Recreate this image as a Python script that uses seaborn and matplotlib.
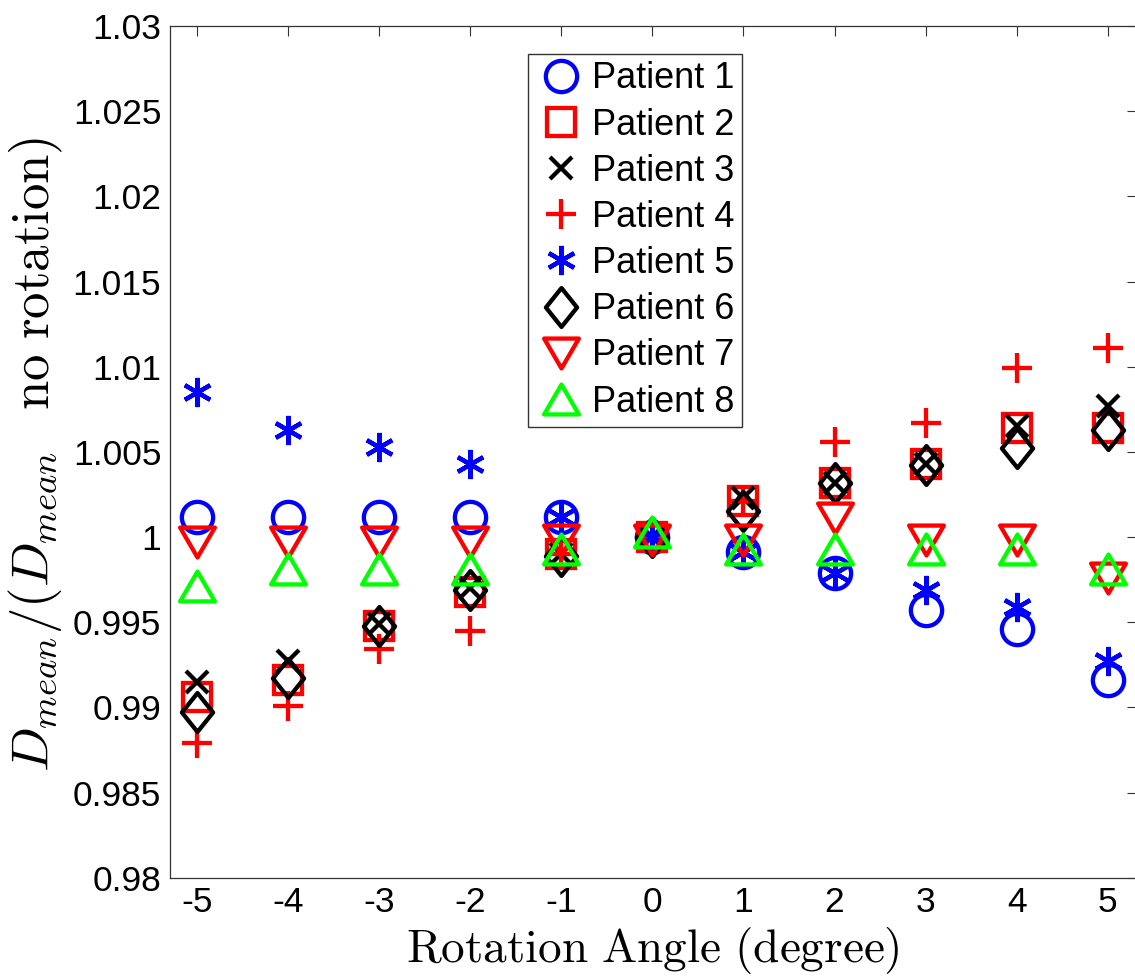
import numpy as np
import pandas as pd
import matplotlib
matplotlib.use('Agg')
import matplotlib.pyplot as plt
from matplotlib.path import Path
import seaborn as sns

# rotation angles (degree)
angles = [-5, -4, -3, -2, -1, 0, 1, 2, 3, 4, 5]

# D_mean / D_mean(no rotation)
patient_1 = [1.0012, 1.0012, 1.0012, 1.0012, 1.0012, 1.0000, 0.9991, 0.9979, 0.9957, 0.9946, 0.9916]
patient_2 = [0.9906, 0.9916, 0.9948, 0.9968, 0.9990, 1.0000, 1.0021, 1.0032, 1.0043, 1.0064, 1.0064]
patient_3 = [0.9915, 0.9927, 0.9949, 0.9970, 0.9990, 1.0000, 1.0023, 1.0032, 1.0043, 1.0065, 1.0077]
patient_4 = [0.9879, 0.9901, 0.9934, 0.9945, 0.9990, 1.0000, 1.0021, 1.0056, 1.0067, 1.0099, 1.0111]
patient_5 = [1.0085, 1.0063, 1.0053, 1.0043, 1.0012, 1.0000, 0.9991, 0.9979, 0.9969, 0.9959, 0.9927]
patient_6 = [0.9897, 0.9917, 0.9948, 0.9969, 0.9989, 1.0000, 1.0015, 1.0032, 1.0042, 1.0052, 1.0063]
patient_7 = [0.9997, 0.9997, 0.9997, 0.9997, 0.9998, 0.9998, 0.9998, 1.0011, 0.9998, 0.9998, 0.9976]
patient_8 = [0.9971, 0.9981, 0.9981, 0.9981, 0.9993, 1.0003, 0.9993, 0.9993, 0.9993, 0.9993, 0.9981]

labels = ['Patient 1', 'Patient 2', 'Patient 3', 'Patient 4',
          'Patient 5', 'Patient 6', 'Patient 7', 'Patient 8']
series = [patient_1, patient_2, patient_3, patient_4,
          patient_5, patient_6, patient_7, patient_8]

ytick_vals = [0.98, 0.985, 0.99, 0.995, 1.0, 1.005, 1.01, 1.015, 1.02, 1.025, 1.03]
ytick_labels = ['0.98', '0.985', '0.99', '0.995', '1', '1.005',
                '1.01', '1.015', '1.02', '1.025', '1.03']

sns.set_style('white')
plt.rcParams['font.family'] = ['Liberation Sans', 'DejaVu Sans']
plt.rcParams['mathtext.fontset'] = 'cm'
plt.rcParams['text.color'] = 'black'
plt.rcParams['axes.labelcolor'] = 'black'

# matlab-like marker shapes
codes = [Path.MOVETO, Path.LINETO, Path.LINETO, Path.LINETO, Path.CLOSEPOLY]
diamond = Path([(0, 1), (0.8, 0), (0, -1), (-0.8, 0), (0, 1)], codes)
tri_codes = [Path.MOVETO, Path.LINETO, Path.LINETO, Path.CLOSEPOLY]
tri_up = Path([(0, 0.86), (-1, -0.86), (1, -0.86), (0, 0.86)], tri_codes)
tri_down = Path([(0, -0.86), (-1, 0.86), (1, 0.86), (0, -0.86)], tri_codes)

blue, red, black, green = '#0000ff', '#ff0000', '#000000', '#00ff00'
styles = [
    dict(marker='o', ms=22.5, color=blue),
    dict(marker='s', ms=19.5, color=red),
    dict(marker='x', ms=16.5, color=black),
    dict(marker='+', ms=21, color=red),
    dict(marker=(6, 2, 0), ms=21, color=blue),
    dict(marker=diamond, ms=28, color=black),
    dict(marker=tri_down, ms=25, color=red),
    dict(marker=tri_up, ms=25, color=green),
]

fig = plt.figure(figsize=(11.35, 9.76), dpi=100)
ax = fig.add_axes([169.7 / 1135, (976 - 877.7) / 976, (1136.5 - 169.7) / 1135, (877.7 - 26) / 976])

for label, vals, st in zip(labels, series, styles):
    df = pd.DataFrame({'angle': angles, 'ratio': vals})
    sns.lineplot(data=df, x='angle', y='ratio', ax=ax, marker=st['marker'],
                 linestyle='', ms=st['ms'], mfc='none', mec=st['color'],
                 mew=3.1, color=st['color'], label=label)

ax.set_xlim(-5.3, 5.316)
ax.set_ylim(0.98, 1.03)
ax.set_xticks(angles)
ax.set_xticklabels([str(a) for a in angles])
ax.set_yticks(ytick_vals)
ax.set_yticklabels(ytick_labels)
ax.tick_params(direction='in', length=7, width=0.8, color='#333333',
               top=True, right=True, labelsize=25.5, pad=6, labelcolor='black')
for sp in ax.spines.values():
    sp.set_color('#333333')
    sp.set_linewidth(0.9)

ax.set_xlabel(r'$\mathrm{Rotation\ Angle\ (degree)}$', fontsize=34)
ax.set_ylabel(r'$D_{mean}/(D_{mean}\;\;\;\mathrm{no\ rotation})$', fontsize=38)
ax.xaxis.set_label_coords(0.5, -0.056)
ax.yaxis.set_label_coords(-0.108, 0.497)

leg = ax.legend(loc='upper left', bbox_to_anchor=(0.371, 0.967), fontsize=26,
                frameon=True, fancybox=False, edgecolor='#333333', framealpha=1,
                borderpad=0.2, labelspacing=0.31, handlelength=1.43,
                handletextpad=0.14, borderaxespad=0)
leg.get_frame().set_linewidth(1)

fig.savefig('out.png', dpi=100)
